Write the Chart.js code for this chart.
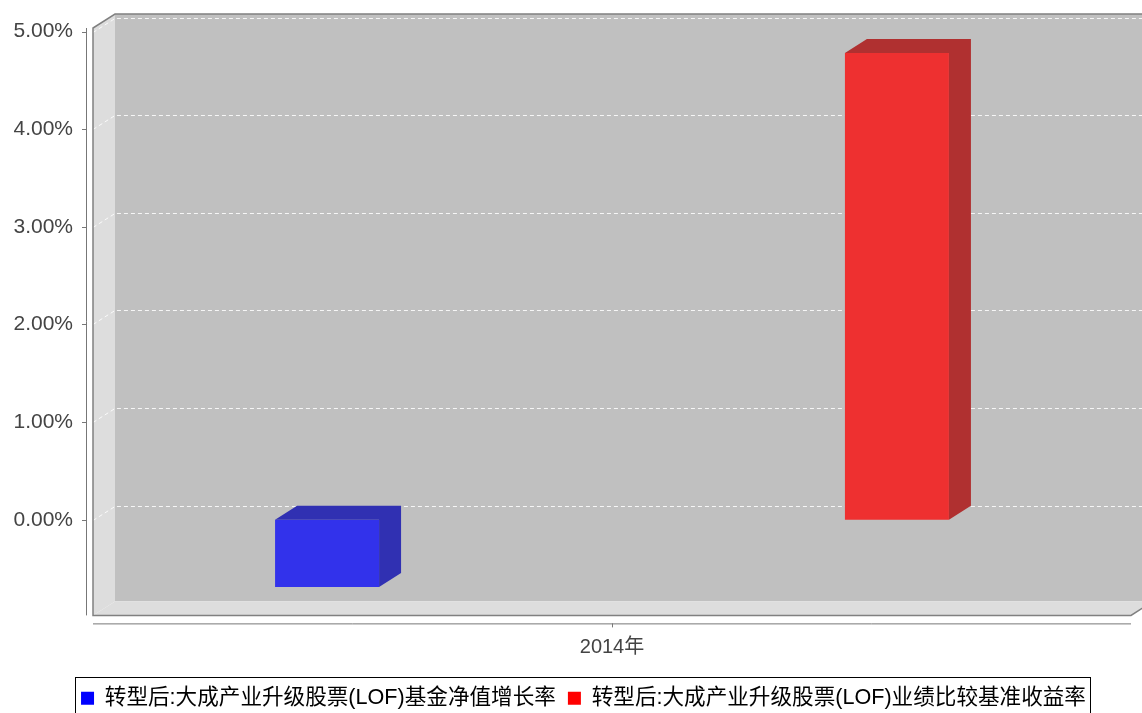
<!DOCTYPE html>
<html>
<head>
<meta charset="utf-8">
<script src="https://cdn.jsdelivr.net/npm/chart.js@4.4.1/dist/chart.umd.min.js"></script>
<style>
  html, body { margin: 0; padding: 0; background: #fff; }
  #wrap { width: 1142px; height: 713px; }
</style>
</head>
<body>
<div id="wrap"><canvas id="myChart" width="1142" height="713"></canvas></div>
<script>
// data
const categories = ['2014年'];
const seriesNames = ['转型后:大成产业升级股票(LOF)基金净值增长率', '转型后:大成产业升级股票(LOF)业绩比较基准收益率'];
const fundGrowth = [-0.69];
const benchmarkReturn = [4.78];
const yTickValues = [0, 1, 2, 3, 4, 5];

const frontColors = ['#3232EB', '#EE3030'];
const darkColors = ['#3030B2', '#B03030'];
const legendColors = ['#0000FF', '#FF0000'];

const DX = 22, DY = 14;   // 3d depth
const textFont = "'Liberation Sans', 'Noto Sans CJK SC', sans-serif";

// walls, grid, axis lines behind the bars
const box3d = {
  id: 'box3d',
  afterLayout(chart) {
    // legend sits a bit right of the canvas centre in the original
    if (chart.legend) { chart.legend.left += 18; chart.legend.right += 18; }
  },
  beforeDatasetsDraw(chart) {
    const { ctx, chartArea: a, scales: { y, x } } = chart;
    ctx.save();
    // back wall
    ctx.fillStyle = '#C0C0C0';
    ctx.fillRect(a.left + DX, a.top - DY, a.right - a.left, a.bottom - a.top);
    // left wall
    ctx.fillStyle = '#DDDDDD';
    ctx.beginPath();
    ctx.moveTo(a.left, a.top); ctx.lineTo(a.left + DX, a.top - DY);
    ctx.lineTo(a.left + DX, a.bottom - DY); ctx.lineTo(a.left, a.bottom);
    ctx.closePath(); ctx.fill();
    // floor
    ctx.beginPath();
    ctx.moveTo(a.left, a.bottom); ctx.lineTo(a.left + DX, a.bottom - DY);
    ctx.lineTo(a.right + DX, a.bottom - DY); ctx.lineTo(a.right, a.bottom);
    ctx.closePath(); ctx.fill();

    // gridlines
    ctx.strokeStyle = 'rgba(255,255,255,0.85)';
    ctx.lineWidth = 1;
    ctx.setLineDash([4, 3]);
    yTickValues.forEach(v => {
      const py = Math.round(y.getPixelForValue(v)) + 0.5;
      ctx.beginPath();
      ctx.moveTo(a.left, py); ctx.lineTo(a.left + DX, py - DY);
      ctx.lineTo(a.right + DX, py - DY);
      ctx.stroke();
    });
    ctx.setLineDash([]);

    // outline
    ctx.strokeStyle = '#808080';
    ctx.lineWidth = 1.5;
    ctx.beginPath();
    ctx.moveTo(a.right + DX, a.top - DY); ctx.lineTo(a.left + DX, a.top - DY);
    ctx.lineTo(a.left, a.top); ctx.lineTo(a.left, a.bottom);
    ctx.lineTo(a.right, a.bottom); ctx.lineTo(a.right + DX, a.bottom - DY);
    ctx.stroke();

    // y axis line + ticks
    const ax = a.left - 7;
    ctx.strokeStyle = '#777';
    ctx.lineWidth = 1;
    ctx.beginPath();
    ctx.moveTo(ax + 0.5, a.top); ctx.lineTo(ax + 0.5, a.bottom);
    yTickValues.forEach(v => {
      const py = Math.round(y.getPixelForValue(v)) + 0.5;
      ctx.moveTo(ax - 4, py); ctx.lineTo(ax + 0.5, py);
    });
    ctx.stroke();

    // x axis line + tick
    const ay = a.bottom + 8;
    ctx.beginPath();
    ctx.moveTo(a.left, ay + 0.5); ctx.lineTo(a.right, ay + 0.5);
    categories.forEach((c, i) => {
      const px = Math.round(x.getPixelForTick(i)) + 0.5;
      ctx.moveTo(px, ay); ctx.lineTo(px, ay + 4);
    });
    ctx.stroke();
    ctx.restore();
  },
  // top and side faces of each bar
  afterDatasetsDraw(chart) {
    const { ctx } = chart;
    ctx.save();
    chart.data.datasets.forEach((ds, di) => {
      chart.getDatasetMeta(di).data.forEach(bar => {
        const { x, y, base, width } = bar.getProps(['x', 'y', 'base', 'width'], true);
        const x0 = x - width / 2, x1 = x + width / 2;
        const top = Math.min(y, base), bot = Math.max(y, base);
        ctx.fillStyle = darkColors[di];
        ctx.beginPath();
        ctx.moveTo(x0, top); ctx.lineTo(x0 + DX, top - DY);
        ctx.lineTo(x1 + DX, top - DY); ctx.lineTo(x1 + DX, bot - DY);
        ctx.lineTo(x1, bot); ctx.lineTo(x1, top);
        ctx.closePath(); ctx.fill();
      });
    });
    ctx.restore();
  },
  // frame round the legend
  afterDraw(chart) {
    const lg = chart.legend;
    if (!lg || !lg.legendHitBoxes.length) return;
    const hb = lg.legendHitBoxes;
    const first = hb[0], last = hb[hb.length - 1];
    const cy = first.top + first.height / 2;
    const { ctx } = chart;
    ctx.save();
    ctx.strokeStyle = '#000';
    ctx.lineWidth = 1;
    ctx.strokeRect(Math.round(first.left - 6) + 0.5, Math.round(cy - 21) + 0.5,
      Math.round(last.left + last.width - first.left + 10), 44);
    ctx.restore();
  }
};

const chart = new Chart(document.getElementById('myChart').getContext('2d'), {
  type: 'bar',
  data: {
    labels: categories,
    datasets: [
      { label: seriesNames[0], data: fundGrowth, backgroundColor: frontColors[0] },
      { label: seriesNames[1], data: benchmarkReturn, backgroundColor: frontColors[1] }
    ]
  },
  options: {
    responsive: false,
    animation: false,
    categoryPercentage: 1.098,
    barPercentage: 0.1825,
    layout: { padding: { top: 28, right: 11, left: 0, bottom: -6 } },
    plugins: {
      tooltip: { enabled: false },
      legend: {
        position: 'bottom',
        labels: {
          boxWidth: 13,
          boxHeight: 13,
          padding: 12,
          color: '#444',
          font: { family: textFont, size: 21.6 },
          generateLabels: (c) => c.data.datasets.map((ds, i) => ({
            text: ds.label, fillStyle: legendColors[i], strokeStyle: legendColors[i],
            lineWidth: 0, datasetIndex: i
          }))
        }
      }
    },
    scales: {
      x: {
        grid: { display: false, drawTicks: false },
        border: { display: false },
        ticks: { color: '#444', padding: 20, font: { family: textFont, size: 20 } },
        afterFit: (s) => { s.height = 60; s.paddingLeft = 0; s.paddingRight = 0; }
      },
      y: {
        min: -0.98,
        max: 5.037,
        grid: { display: false, drawTicks: false },
        border: { display: false },
        afterBuildTicks: (s) => { s.ticks = yTickValues.map(v => ({ value: v })); },
        afterFit: (s) => { s.width = 93; s.paddingTop = 0; s.paddingBottom = 0; },
        ticks: {
          color: '#444',
          padding: 20,
          font: { family: textFont, size: 21 },
          callback: (v) => Number(v).toFixed(2) + '%'
        }
      }
    }
  },
  plugins: [box3d]
});
</script>
</body>
</html>
